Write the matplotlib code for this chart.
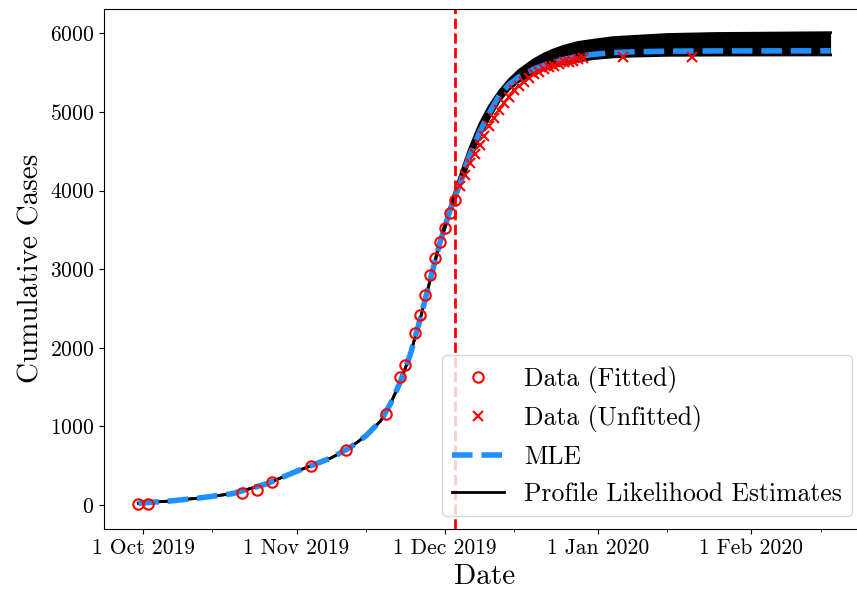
import matplotlib
matplotlib.use("Agg")
import matplotlib.pyplot as plt
import matplotlib.dates as mdates
import pandas as pd

plt.rcParams['font.family'] = 'serif'
plt.rcParams['font.serif'] = ['cmr10']
plt.rcParams['mathtext.fontset'] = 'cm'
plt.rcParams['axes.formatter.use_mathtext'] = True

# datos ajustados (circulos)
fit_dates = ["2019-09-30", "2019-10-02", "2019-10-21", "2019-10-24", "2019-10-27",
             "2019-11-04", "2019-11-11", "2019-11-19", "2019-11-22", "2019-11-23",
             "2019-11-25", "2019-11-26", "2019-11-27", "2019-11-28", "2019-11-29",
             "2019-11-30", "2019-12-01", "2019-12-02", "2019-12-03"]
fit_cases = [10, 18, 151, 198, 297, 495, 701, 1161, 1633, 1783,
             2183, 2423, 2672, 2926, 3141, 3351, 3518, 3721, 3874]

# datos no ajustados (cruces)
unfit_dates = [f"2019-12-{d:02d}" for d in range(4, 30)] + ["2020-01-06", "2020-01-20"]
unfit_cases = [4052, 4201, 4350, 4468, 4583, 4697, 4815, 4922, 5027, 5120,
               5196, 5273, 5332, 5387, 5438, 5481, 5514, 5545, 5570, 5590,
               5612, 5629, 5641, 5654, 5667, 5680, 5697, 5700]

# curvas del modelo
curve_dates = ["2019-09-30", "2019-10-06", "2019-10-12", "2019-10-19", "2019-10-26",
               "2019-11-01", "2019-11-08", "2019-11-12", "2019-11-15", "2019-11-18",
               "2019-11-20", "2019-11-22", "2019-11-24", "2019-11-26", "2019-11-28",
               "2019-11-30", "2019-12-02", "2019-12-04", "2019-12-06", "2019-12-08",
               "2019-12-10", "2019-12-12", "2019-12-14", "2019-12-16", "2019-12-19",
               "2019-12-21", "2019-12-23", "2019-12-25", "2019-12-28", "2019-12-31",
               "2020-01-04", "2020-01-08", "2020-01-15", "2020-01-25", "2020-02-17"]
mle = [25, 50, 88, 145, 272, 430, 600, 740, 880, 1070,
       1290, 1570, 1915, 2365, 2860, 3340, 3740, 4085, 4450, 4740,
       4990, 5210, 5350, 5447, 5547, 5592, 5627, 5667, 5707, 5732,
       5755, 5764, 5773, 5776, 5777]
profile_upper = [25, 50, 88, 145, 272, 430, 600, 740, 880, 1070,
                 1290, 1570, 1915, 2365, 2865, 3365, 3790, 4170, 4530, 4840,
                 5075, 5260, 5410, 5530, 5665, 5735, 5790, 5835, 5885, 5912,
                 5945, 5960, 5985, 5998, 6008]
profile_lower = [25, 50, 88, 145, 272, 430, 600, 740, 880, 1070,
                 1290, 1570, 1915, 2365, 2850, 3320, 3710, 4040, 4380, 4680,
                 4930, 5140, 5290, 5390, 5490, 5538, 5575, 5612, 5650, 5678,
                 5700, 5710, 5720, 5723, 5725]

cutoff = "2019-12-03"

fit_d = pd.to_datetime(fit_dates)
unfit_d = pd.to_datetime(unfit_dates)
curve_d = pd.to_datetime(curve_dates)

fig = plt.figure(figsize=(8.57, 5.94), dpi=100)
ax = fig.add_axes([103.7 / 857, 65.3 / 594, 761.5 / 857, 520 / 594])

# estimaciones de verosimilitud perfil
ax.fill_between(curve_d, profile_lower, profile_upper, color='black', lw=0)
ax.plot(curve_d, profile_upper, color='black', lw=2)
ax.plot(curve_d, profile_lower, color='black', lw=2, label='Profile Likelihood Estimates')
ax.plot(curve_d, mle, '--', color='dodgerblue', lw=4, label='MLE')

ax.plot(fit_d, fit_cases, 'o', mfc='none', mec='red', ms=7.5, mew=1.5, label='Data (Fitted)')
ax.plot(unfit_d, unfit_cases, 'x', color='red', ms=7.5, mew=1.5, label='Data (Unfitted)')
ax.axvline(pd.to_datetime(cutoff), color='red', ls='--', lw=2)

ax.set_xlim(pd.to_datetime("2019-09-23"), pd.to_datetime("2020-02-24"))
ax.set_ylim(-300, 6313)
ax.xaxis.set_major_locator(mdates.MonthLocator(bymonthday=1))
ax.xaxis.set_minor_locator(mdates.MonthLocator(bymonthday=15))
ax.xaxis.set_major_formatter(mdates.DateFormatter('%-d %b %Y'))
ax.tick_params(labelsize=15.5)

ax.set_xlabel('Date', fontsize=21)
ax.set_ylabel('Cumulative Cases', fontsize=21)

h, l = ax.get_legend_handles_labels()
orden = ['Data (Fitted)', 'Data (Unfitted)', 'MLE', 'Profile Likelihood Estimates']
hh = [h[l.index(n)] for n in orden]
ax.legend(hh, orden, loc='lower right', fontsize=18.5)

fig.savefig('out.png', dpi=100)
